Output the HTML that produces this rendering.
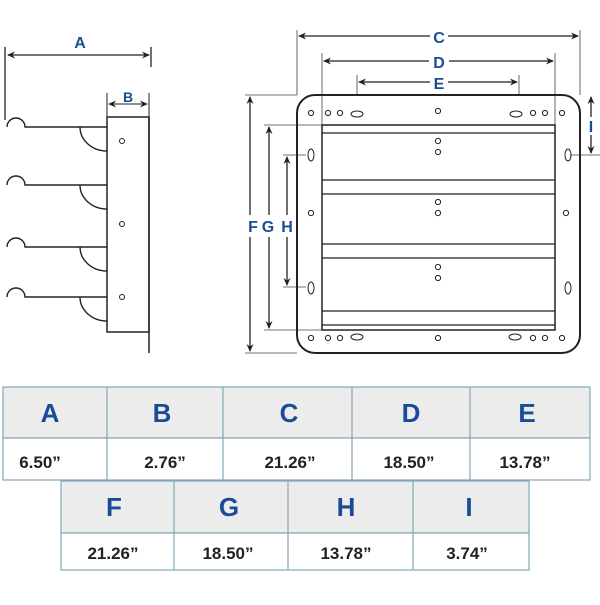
<!DOCTYPE html>
<html><head><style>
body{margin:0;background:#fff;width:600px;height:600px;overflow:hidden;font-family:"Liberation Sans",Arial,sans-serif}
</style></head><body>
<svg width="600" height="600" viewBox="0 0 600 600" xmlns="http://www.w3.org/2000/svg">
<defs>
<marker id="ar" markerWidth="8" markerHeight="8" refX="7" refY="4" orient="auto-start-reverse" markerUnits="userSpaceOnUse"><path d="M0,0.5 L8,4 L0,7.5 L2.5,4 Z" fill="#222"/></marker>
</defs>
<g fill="none" stroke="#222" stroke-width="1.3">
<!-- left view -->
<line x1="5" y1="47" x2="5" y2="120"/>
<line x1="151" y1="47" x2="151" y2="67"/>
<line x1="8" y1="55" x2="149" y2="55" marker-start="url(#ar)" marker-end="url(#ar)"/>
<line x1="107" y1="93" x2="107" y2="117" stroke-width="1"/>
<line x1="149" y1="93" x2="149" y2="117" stroke-width="1"/>
<line x1="109" y1="104" x2="147" y2="104" stroke-width="1" marker-start="url(#ar)" marker-end="url(#ar)"/>
<rect x="107" y="117" width="42" height="215" stroke-width="1.5"/>
<line x1="149" y1="117" x2="149" y2="353" stroke-width="1.5"/>
<g stroke-width="1.4">
<path d="M7,127 A9,9 0 0 1 25,127 L107,127 M80,127 A27,24 0 0 0 107,151"/>
<path d="M7,185 A9,9 0 0 1 25,185 L107,185 M80,185 A27,24 0 0 0 107,209"/>
<path d="M7,247 A9,9 0 0 1 25,247 L107,247 M80,247 A27,24 0 0 0 107,271"/>
<path d="M7,297 A9,9 0 0 1 25,297 L107,297 M80,297 A27,24 0 0 0 107,321"/>
</g>
<circle cx="122" cy="141" r="2.5" stroke-width="1"/>
<circle cx="122" cy="224" r="2.5" stroke-width="1"/>
<circle cx="122" cy="297" r="2.5" stroke-width="1"/>

<!-- right view dims -->
<g stroke-width="0.8" stroke="#444">
<line x1="297" y1="30" x2="297" y2="95"/>
<line x1="580" y1="30" x2="580" y2="95"/>
<line x1="322" y1="53" x2="322" y2="125"/>
<line x1="555" y1="53" x2="555" y2="125"/>
<line x1="357" y1="75" x2="357" y2="95"/>
<line x1="519" y1="75" x2="519" y2="95"/>
<line x1="245" y1="95" x2="297" y2="95"/>
<line x1="245" y1="353" x2="297" y2="353"/>
<line x1="264" y1="125" x2="322" y2="125"/>
<line x1="264" y1="330" x2="322" y2="330"/>
<line x1="283" y1="155" x2="306" y2="155"/>
<line x1="283" y1="287" x2="306" y2="287"/>
<line x1="570" y1="155" x2="600" y2="155"/>
</g>
<line x1="299" y1="36" x2="430" y2="36" marker-start="url(#ar)"/>
<line x1="448" y1="36" x2="578" y2="36" marker-end="url(#ar)"/>
<line x1="324" y1="61" x2="429" y2="61" marker-start="url(#ar)"/>
<line x1="449" y1="61" x2="553" y2="61" marker-end="url(#ar)"/>
<line x1="359" y1="82" x2="430" y2="82" marker-start="url(#ar)"/>
<line x1="448" y1="82" x2="517" y2="82" marker-end="url(#ar)"/>
<line x1="250" y1="97" x2="250" y2="215" marker-start="url(#ar)"/>
<line x1="250" y1="237" x2="250" y2="351" marker-end="url(#ar)"/>
<line x1="269" y1="127" x2="269" y2="215" marker-start="url(#ar)"/>
<line x1="269" y1="237" x2="269" y2="328" marker-end="url(#ar)"/>
<line x1="287" y1="157" x2="287" y2="215" marker-start="url(#ar)"/>
<line x1="287" y1="237" x2="287" y2="285" marker-end="url(#ar)"/>
<line x1="591" y1="97" x2="591" y2="117" marker-start="url(#ar)"/>
<line x1="591" y1="135" x2="591" y2="153" marker-end="url(#ar)"/>

<!-- frame -->
<rect x="297" y="95" width="283" height="258" rx="18" stroke-width="2"/>
<rect x="322" y="125" width="233" height="205" stroke-width="1.5"/>
<g stroke-width="1.2">
<line x1="322" y1="133" x2="555" y2="133"/>
<line x1="322" y1="180" x2="555" y2="180"/>
<line x1="322" y1="194" x2="555" y2="194"/>
<line x1="322" y1="244" x2="555" y2="244"/>
<line x1="322" y1="258" x2="555" y2="258"/>
<line x1="322" y1="311" x2="555" y2="311"/>
<line x1="322" y1="325" x2="555" y2="325"/>
</g>
<g stroke-width="1">
<circle cx="311" cy="113" r="2.6"/><circle cx="328" cy="113" r="2.6"/><circle cx="340" cy="113" r="2.6"/>
<ellipse cx="357" cy="114" rx="6" ry="3"/><circle cx="438" cy="111" r="2.6"/>
<ellipse cx="516" cy="114" rx="6" ry="3"/>
<circle cx="533" cy="113" r="2.6"/><circle cx="545" cy="113" r="2.6"/><circle cx="562" cy="113" r="2.6"/>
<circle cx="311" cy="338" r="2.6"/><circle cx="328" cy="338" r="2.6"/><circle cx="340" cy="338" r="2.6"/>
<ellipse cx="357" cy="337" rx="6" ry="3"/><circle cx="438" cy="338" r="2.6"/>
<ellipse cx="515" cy="337" rx="6" ry="3"/>
<circle cx="533" cy="338" r="2.6"/><circle cx="545" cy="338" r="2.6"/><circle cx="562" cy="338" r="2.6"/>
<ellipse cx="311" cy="155" rx="3" ry="6"/><ellipse cx="568" cy="155" rx="3" ry="6"/>
<ellipse cx="311" cy="288" rx="3" ry="6"/><ellipse cx="568" cy="288" rx="3" ry="6"/>
<circle cx="311" cy="213" r="2.6"/><circle cx="566" cy="213" r="2.6"/>
<circle cx="438" cy="141" r="2.6"/><circle cx="438" cy="152" r="2.6"/>
<circle cx="438" cy="202" r="2.6"/><circle cx="438" cy="213" r="2.6"/>
<circle cx="438" cy="267" r="2.6"/><circle cx="438" cy="278" r="2.6"/>
</g>
</g>
<g fill="#1a4c96" font-weight="bold" font-size="16" text-anchor="middle" font-family="Liberation Sans, Arial, sans-serif">
<text x="80" y="48">A</text>
<text x="128" y="102" font-size="14">B</text>
<text x="439" y="43">C</text>
<text x="439" y="68">D</text>
<text x="439" y="89">E</text>
<text x="253" y="232">F</text>
<text x="268" y="232">G</text>
<text x="287" y="232">H</text>
<text x="591" y="132">I</text>
</g>

<!-- table -->
<g stroke="#7fa9b8" stroke-width="1.2">
<rect x="3" y="387" width="587" height="51" fill="#ececec"/>
<rect x="3" y="438" width="587" height="42" fill="#fff"/>
<rect x="61" y="481" width="468" height="52" fill="#ececec"/>
<rect x="61" y="533" width="468" height="37" fill="#fff"/>
<line x1="107" y1="387" x2="107" y2="480"/>
<line x1="223" y1="387" x2="223" y2="480"/>
<line x1="352" y1="387" x2="352" y2="480"/>
<line x1="470" y1="387" x2="470" y2="480"/>
<line x1="174" y1="481" x2="174" y2="570"/>
<line x1="288" y1="481" x2="288" y2="570"/>
<line x1="413" y1="481" x2="413" y2="570"/>
</g>
<g fill="#1a4c96" font-weight="bold" font-size="26" text-anchor="middle">
<text x="50" y="422">A</text><text x="162" y="422">B</text><text x="289" y="422">C</text><text x="411" y="422">D</text><text x="527" y="422">E</text>
<text x="114" y="516">F</text><text x="229" y="516">G</text><text x="346" y="516">H</text><text x="469" y="516">I</text>
</g>
<g fill="#222" font-weight="bold" font-size="17" text-anchor="middle">
<text x="40" y="468">6.50”</text><text x="165" y="468">2.76”</text><text x="290" y="468">21.26”</text><text x="409" y="468">18.50”</text><text x="525" y="468">13.78”</text>
<text x="113" y="559">21.26”</text><text x="228" y="559">18.50”</text><text x="346" y="559">13.78”</text><text x="467" y="559">3.74”</text>
</g>
</svg>
</body></html>
